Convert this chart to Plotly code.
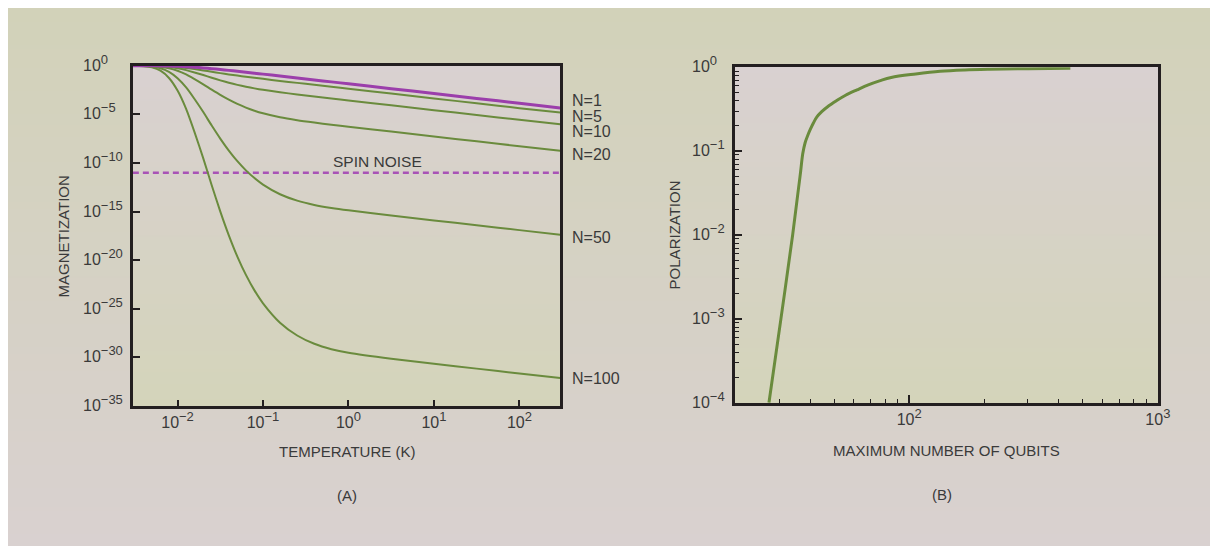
import base64
import math
import struct
import zlib

import plotly.graph_objects as go

# ---------------- data ----------------
# Panel A: magnetization vs temperature for N spins (values are log10 of magnetization)
temperature_K = [0.003, 0.00398, 0.00501, 0.00631, 0.00794, 0.0100, 0.0126, 0.0158,
                 0.0200, 0.0251, 0.0316, 0.0398, 0.0501, 0.0631, 0.0794, 0.100,
                 0.158, 0.251, 0.398, 0.631, 1.0, 3.16, 10.0, 31.6, 100.0, 300.0]

mag_exp_N1 = [0.0, -0.001, -0.003, -0.010, -0.025, -0.053, -0.094, -0.149, -0.217, -0.295,
              -0.380, -0.470, -0.564, -0.660, -0.757, -0.856, -1.054, -1.253, -1.453, -1.653,
              -1.853, -2.353, -2.853, -3.353, -3.853, -4.330]
mag_exp_N5 = [0.0, -0.002, -0.008, -0.025, -0.063, -0.127, -0.222, -0.341, -0.476, -0.616,
              -0.754, -0.885, -1.008, -1.125, -1.237, -1.344, -1.552, -1.756, -1.957, -2.158,
              -2.358, -2.858, -3.358, -3.858, -4.358, -4.800]
mag_exp_N10 = [0.0, -0.004, -0.016, -0.051, -0.125, -0.255, -0.444, -0.683, -0.952, -1.229,
               -1.497, -1.745, -1.964, -2.156, -2.323, -2.471, -2.724, -2.947, -3.156, -3.360,
               -3.561, -4.062, -4.562, -5.062, -5.562, -6.010]
mag_exp_N20 = [0.0, -0.008, -0.032, -0.101, -0.250, -0.510, -0.888, -1.366, -1.904, -2.459,
               -2.995, -3.488, -3.925, -4.302, -4.621, -4.889, -5.298, -5.598, -5.841, -6.059,
               -6.267, -6.771, -7.272, -7.772, -8.272, -8.730]
mag_exp_N50 = [-0.002, -0.019, -0.080, -0.253, -0.626, -1.274, -2.220, -3.414, -4.759, -6.147,
               -7.487, -8.720, -9.813, -10.755, -11.553, -12.218, -13.214, -13.874, -14.312,
               -14.623, -14.871, -15.401, -15.904, -16.405, -16.905, -17.370]
mag_exp_N100 = [-0.004, -0.038, -0.161, -0.506, -1.252, -2.548, -4.439, -6.828, -9.519, -12.293,
                -14.975, -17.441, -19.627, -21.511, -23.106, -24.436, -26.429, -27.745, -28.599,
                -29.152, -29.525, -30.141, -30.653, -31.155, -31.655, -32.120]

series_names = ["N=1", "N=5", "N=10", "N=20", "N=50", "N=100"]
series_exps = [mag_exp_N1, mag_exp_N5, mag_exp_N10, mag_exp_N20, mag_exp_N50, mag_exp_N100]
label_exps = [-3.57, -5.18, -6.78, -9.08, -17.65, -32.2]   # label heights (log10)

spin_noise_T = [0.003, 300.0]
spin_noise_M = [1e-11, 1e-11]
spin_noise_label_logT = 0.335
spin_noise_label_exp = -9.87

# Panel A tick labels
a_xtick_vals = [0.01, 0.1, 1, 10, 100]
a_xtick_exps = ["−2", "−1", "0", "1", "2"]
a_ytick_exps = [0, -5, -10, -15, -20, -25, -30, -35]

# Panel B: polarization vs maximum number of qubits
qubits = [27.3, 30.5, 34.0, 35.7, 36.6, 37.33, 38.14, 39.02, 40.03, 41.2, 42.5, 44.5, 47.0,
          51.0, 55.5, 61.7, 68.5, 76.0, 84.7, 106.3, 133.2, 167.2, 209.9, 301.0, 444.7]
polarization = [1e-4, 1e-3, 1e-2, 0.0316, 0.0567, 0.0927, 0.125, 0.151, 0.181, 0.216, 0.254,
                0.295, 0.338, 0.398, 0.463, 0.537, 0.616, 0.687, 0.755, 0.831, 0.894, 0.927,
                0.944, 0.960, 0.970]

b_xtick_vals = [100, 1000]
b_xtick_exps = ["2", "3"]
b_xminor_vals = [30, 40, 50, 60, 70, 80, 90, 200, 300, 400, 500, 600, 700, 800, 900]
b_ytick_exps = [0, -1, -2, -3, -4]
b_yminor_vals = [m * 10.0 ** e for e in (-4, -3, -2, -1) for m in range(2, 10)]

# ---------------- styling ----------------
# The page body adds an 8 px margin at the top/left of the figure
OFF = 8
W, H = 1223 - OFF, 546 - OFF
FONT = "Liberation Sans, Arial, Helvetica, sans-serif"
TEXT = "#3a3a3a"
FRAME = "#231f20"
GREEN = "#6a8b3d"
PURPLE = "#9b3eab"
PURPLE_DASH = "#a853b6"


def px_x(p):
    return (p - OFF) / W


def px_y(p):
    return 1 - (p - OFF) / H


def gradient_png(c0, c1, h=256, w=2):
    rows = []
    for i in range(h):
        t = i / (h - 1)
        rgb = bytes(round(c0[k] + (c1[k] - c0[k]) * t) for k in range(3))
        rows.append(b"\x00" + rgb * w)
    raw = b"".join(rows)

    def chunk(tag, data):
        return (struct.pack(">I", len(data)) + tag + data +
                struct.pack(">I", zlib.crc32(tag + data) & 0xFFFFFFFF))

    ihdr = struct.pack(">IIBBBBB", w, h, 8, 2, 0, 0, 0)
    png = (b"\x89PNG\r\n\x1a\n" + chunk(b"IHDR", ihdr) +
           chunk(b"IDAT", zlib.compress(raw, 9)) + chunk(b"IEND", b""))
    return "data:image/png;base64," + base64.b64encode(png).decode()


def sup(base, exp, size=13):
    return f'{base}<sup><span style="font-size:{size}px">{exp}</span></sup>'


# plot frames (window pixel positions of frame line centres)
A_L, A_R, A_T, A_B = 132.7, 567.7, 64.3, 407.5
B_L, B_R, B_T, B_B = 741.7, 1171.8, 65.7, 404.3
half = 1.5

fig = go.Figure()

# spin noise
fig.add_trace(go.Scatter(x=spin_noise_T, y=spin_noise_M, mode="lines", xaxis="x", yaxis="y",
                         line=dict(color=PURPLE_DASH, width=2.6, dash="6px,4px"),
                         hoverinfo="skip"))

# N curves (greens first, purple N=1 on top)
for i in [5, 4, 3, 2, 1, 0]:
    exps = series_exps[i]
    is_one = series_names[i] == "N=1"
    fig.add_trace(go.Scatter(
        x=temperature_K, y=[10.0 ** e for e in exps], mode="lines", xaxis="x", yaxis="y",
        name=series_names[i],
        line=dict(color=PURPLE if is_one else GREEN, width=3 if is_one else 2,
                  shape="spline", smoothing=0.6),
        hoverinfo="skip"))

# Panel B curve
fig.add_trace(go.Scatter(x=qubits, y=polarization, mode="lines", xaxis="x2", yaxis="y2",
                         line=dict(color=GREEN, width=3, shape="spline", smoothing=1.0),
                         hoverinfo="skip"))

axis_common = dict(showline=True, linecolor=FRAME, linewidth=3, mirror=True, showgrid=False,
                   zeroline=False, ticks="inside", tickcolor=FRAME,
                   tickfont=dict(family=FONT, size=16, color=TEXT))

fig.update_layout(
    width=W, height=H, margin=dict(l=0, r=0, t=0, b=0, pad=0),
    paper_bgcolor="white", plot_bgcolor="rgba(0,0,0,0)", showlegend=False,
    font=dict(family=FONT, color=TEXT),
    xaxis=dict(type="log", range=[math.log10(0.003), math.log10(300)],
               domain=[px_x(A_L + half), px_x(A_R - half)], anchor="y",
               tickmode="array", tickvals=a_xtick_vals,
               ticktext=[sup("10", e) for e in a_xtick_exps],
               ticklen=6, tickwidth=2, **axis_common),
    yaxis=dict(type="log", range=[-35, 0],
               domain=[px_y(A_B - half), px_y(A_T + half)], anchor="x",
               tickmode="array", tickvals=[10.0 ** e for e in a_ytick_exps],
               showticklabels=False, ticklen=7, tickwidth=2, **axis_common),
    xaxis2=dict(type="log", range=[math.log10(20), 3],
                domain=[px_x(B_L + half), px_x(B_R - half)], anchor="y2",
                tickmode="array", tickvals=b_xtick_vals,
                ticktext=[sup("10", e) for e in b_xtick_exps],
                ticklen=8, tickwidth=1.5,
                minor=dict(ticks="inside", ticklen=4, tickwidth=1.2, tickcolor=FRAME,
                           tickvals=b_xminor_vals, showgrid=False),
                **axis_common),
    yaxis2=dict(type="log", range=[-4, 0],
                domain=[px_y(B_B - half), px_y(B_T + half)], anchor="x2",
                tickmode="array", tickvals=[10.0 ** e for e in b_ytick_exps],
                showticklabels=False, ticklen=7, tickwidth=1.5,
                minor=dict(ticks="inside", ticklen=4, tickwidth=1.2, tickcolor=FRAME,
                           tickvals=b_yminor_vals, showgrid=False),
                **axis_common),
)

# backgrounds
page_img = gradient_png((210, 210, 185), (217, 209, 208))
plot_img = gradient_png((217, 209, 209), (212, 212, 186))
images = [dict(source=page_img, xref="paper", yref="paper", x=0, y=1, sizex=1, sizey=1,
               xanchor="left", yanchor="top", sizing="stretch", layer="below")]
for (l, r, t, b) in [(A_L, A_R, A_T, A_B), (B_L, B_R, B_T, B_B)]:
    images.append(dict(source=plot_img, xref="paper", yref="paper", x=px_x(l), y=px_y(t),
                       sizex=(r - l) / W, sizey=(b - t) / H, xanchor="left", yanchor="top",
                       sizing="stretch", layer="below"))
fig.update_layout(images=images)

ann = []
tick_font = dict(family=FONT, size=16, color=TEXT)
# y tick labels (left aligned, as in the reference)
for e in a_ytick_exps:
    ann.append(dict(x=px_x(81.7), xref="paper", y=e, yref="y", xanchor="left",
                    yanchor="middle", yshift=3, showarrow=False,
                    text=sup("10", "0" if e == 0 else "−" + str(-e)), font=tick_font))
for e in b_ytick_exps:
    ann.append(dict(x=px_x(697.3), xref="paper", y=e, yref="y2", xanchor="left",
                    yanchor="middle", yshift=3, showarrow=False,
                    text=sup("10", "0" if e == 0 else "−" + str(-e)), font=tick_font))
# curve labels
for name, ly in zip(series_names, label_exps):
    ann.append(dict(x=(579 - A_L) / (A_R - A_L), xref="x domain", y=ly, yref="y",
                    xanchor="left", yanchor="middle", showarrow=False, text=name,
                    borderpad=0, font=dict(family=FONT, size=16, color=TEXT)))
# spin noise label
ann.append(dict(x=spin_noise_label_logT, xref="x", y=spin_noise_label_exp, yref="y",
                xanchor="center", yanchor="middle", showarrow=False, text="SPIN NOISE",
                font=dict(family=FONT, size=15.5, color=TEXT)))
# axis titles and panel letters
title_font = dict(family=FONT, size=15, color=TEXT)
ann += [
    dict(x=px_x(64), y=px_y(236), xref="paper", yref="paper", text="MAGNETIZATION",
         textangle=-90, showarrow=False, font=title_font, xanchor="center", yanchor="middle"),
    dict(x=px_x(350.2), y=px_y(451.5), xref="paper", yref="paper", text="TEMPERATURE (K)",
         showarrow=False, font=title_font, xanchor="center", yanchor="middle"),
    dict(x=px_x(350.7), y=px_y(495), xref="paper", yref="paper", text="(A)",
         showarrow=False, font=title_font, xanchor="center", yanchor="middle"),
    dict(x=px_x(681.6), y=px_y(235), xref="paper", yref="paper", text="POLARIZATION",
         textangle=-90, showarrow=False, font=title_font, xanchor="center", yanchor="middle"),
    dict(x=px_x(956.5), y=px_y(450), xref="paper", yref="paper",
         text="MAXIMUM NUMBER OF QUBITS", showarrow=False, font=title_font,
         xanchor="center", yanchor="middle"),
    dict(x=px_x(952.3), y=px_y(494.3), xref="paper", yref="paper", text="(B)",
         showarrow=False, font=title_font, xanchor="center", yanchor="middle"),
]
fig.update_layout(annotations=ann)

fig.write_html("out.html")
